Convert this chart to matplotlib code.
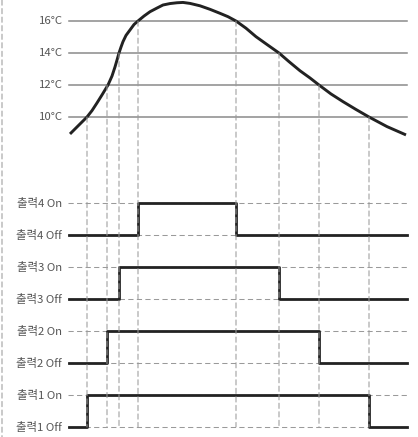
import matplotlib
matplotlib.use("Agg")
import matplotlib.pyplot as plt
from matplotlib.patches import ConnectionPatch

plt.rcParams['font.family'] = ['Noto Sans CJK KR', 'DejaVu Sans']

# temperature curve (time in arbitrary units)
time = [70, 78, 87, 92, 97, 102, 108, 112, 115, 117, 119, 121, 123, 126, 130,
        134, 138, 144, 150, 157, 163, 170, 177, 183, 190, 200, 210, 220, 228,
        236, 246, 256, 267, 279, 289, 300, 310, 319, 331, 343, 356, 369, 387, 406]
temp = [8.94, 9.44, 10.0, 10.4, 10.88, 11.38, 12.0, 12.56, 13.13, 13.56, 14.0,
        14.37, 14.71, 15.1, 15.44, 15.78, 16.0, 16.31, 16.58, 16.81, 17.0, 17.09,
        17.14, 17.16, 17.1, 16.95, 16.73, 16.48, 16.27, 16.0, 15.55, 15.02, 14.53,
        14.0, 13.46, 12.89, 12.44, 12.0, 11.44, 10.96, 10.47, 10.0, 9.4, 8.88]

grid_temps = [10, 12, 14, 16]
temp_labels = ['10°C', '12°C', '14°C', '16°C']

# outputs 1..4 : switch-on / switch-off thresholds and times
outputs = ['출력1', '출력2', '출력3', '출력4']
thresholds = [10, 12, 14, 16]
on_times = [87, 107, 119, 138]
off_times = [369, 319, 279, 236]
t_start, t_end = 69, 407

grid_c = '#8a8a8a'
dash_c = '#9a9a9a'
line_c = '#222222'
text_c = '#555555'
dash = (0, (5, 3.2))

fig = plt.figure(figsize=(4.18, 4.37), dpi=100)
top = fig.add_axes([0, 1 - 140 / 437, 1, 140 / 437])
bot = fig.add_axes([0, 0, 1, 297 / 437])
for ax in (top, bot):
    ax.set_xlim(0, 418)
    ax.axis('off')
top.set_ylim(8.5625, 17.3125)
bot.set_ylim(-0.3125, 8.97)

# temperature grid and labels
for t, lab in zip(grid_temps, temp_labels):
    top.plot([t_start, t_end], [t, t], color=grid_c, lw=1.1, zorder=1)
    top.text(63, t, lab, ha='right', va='center', fontsize=8.2, color=text_c)

top.plot(time, temp, color=line_c, lw=2.1, solid_capstyle='butt',
         solid_joinstyle='round', zorder=3)

# output levels
for i, name in enumerate(outputs):
    off_y = 2 * i
    on_y = 2 * i + 1
    for y, state in ((on_y, 'On'), (off_y, 'Off')):
        bot.plot([68, t_end], [y, y], color=dash_c, lw=0.75, ls=dash, zorder=1)
        bot.text(62, y, f'{name} {state}', ha='right', va='center',
                 fontsize=8.2, color=text_c)
    bot.step([t_start, on_times[i], off_times[i], t_end],
             [off_y, on_y, off_y, off_y], where='post',
             color=line_c, lw=2.0, zorder=3)

# vertical dashed guides from the curve crossings down to the outputs
for th, t_on, t_off in zip(thresholds, on_times, off_times):
    for x in (t_on, t_off):
        con = ConnectionPatch(xyA=(x, th), coordsA=top.transData,
                              xyB=(x, 0), coordsB=bot.transData,
                              color=dash_c, lw=0.75, ls=dash, zorder=1)
        fig.add_artist(con)

# left border guide
con = ConnectionPatch(xyA=(2, 17.3125), coordsA=top.transData,
                      xyB=(2, -0.3125), coordsB=bot.transData,
                      color=dash_c, lw=0.75, ls=dash)
fig.add_artist(con)

fig.savefig('out.png', dpi=100)
